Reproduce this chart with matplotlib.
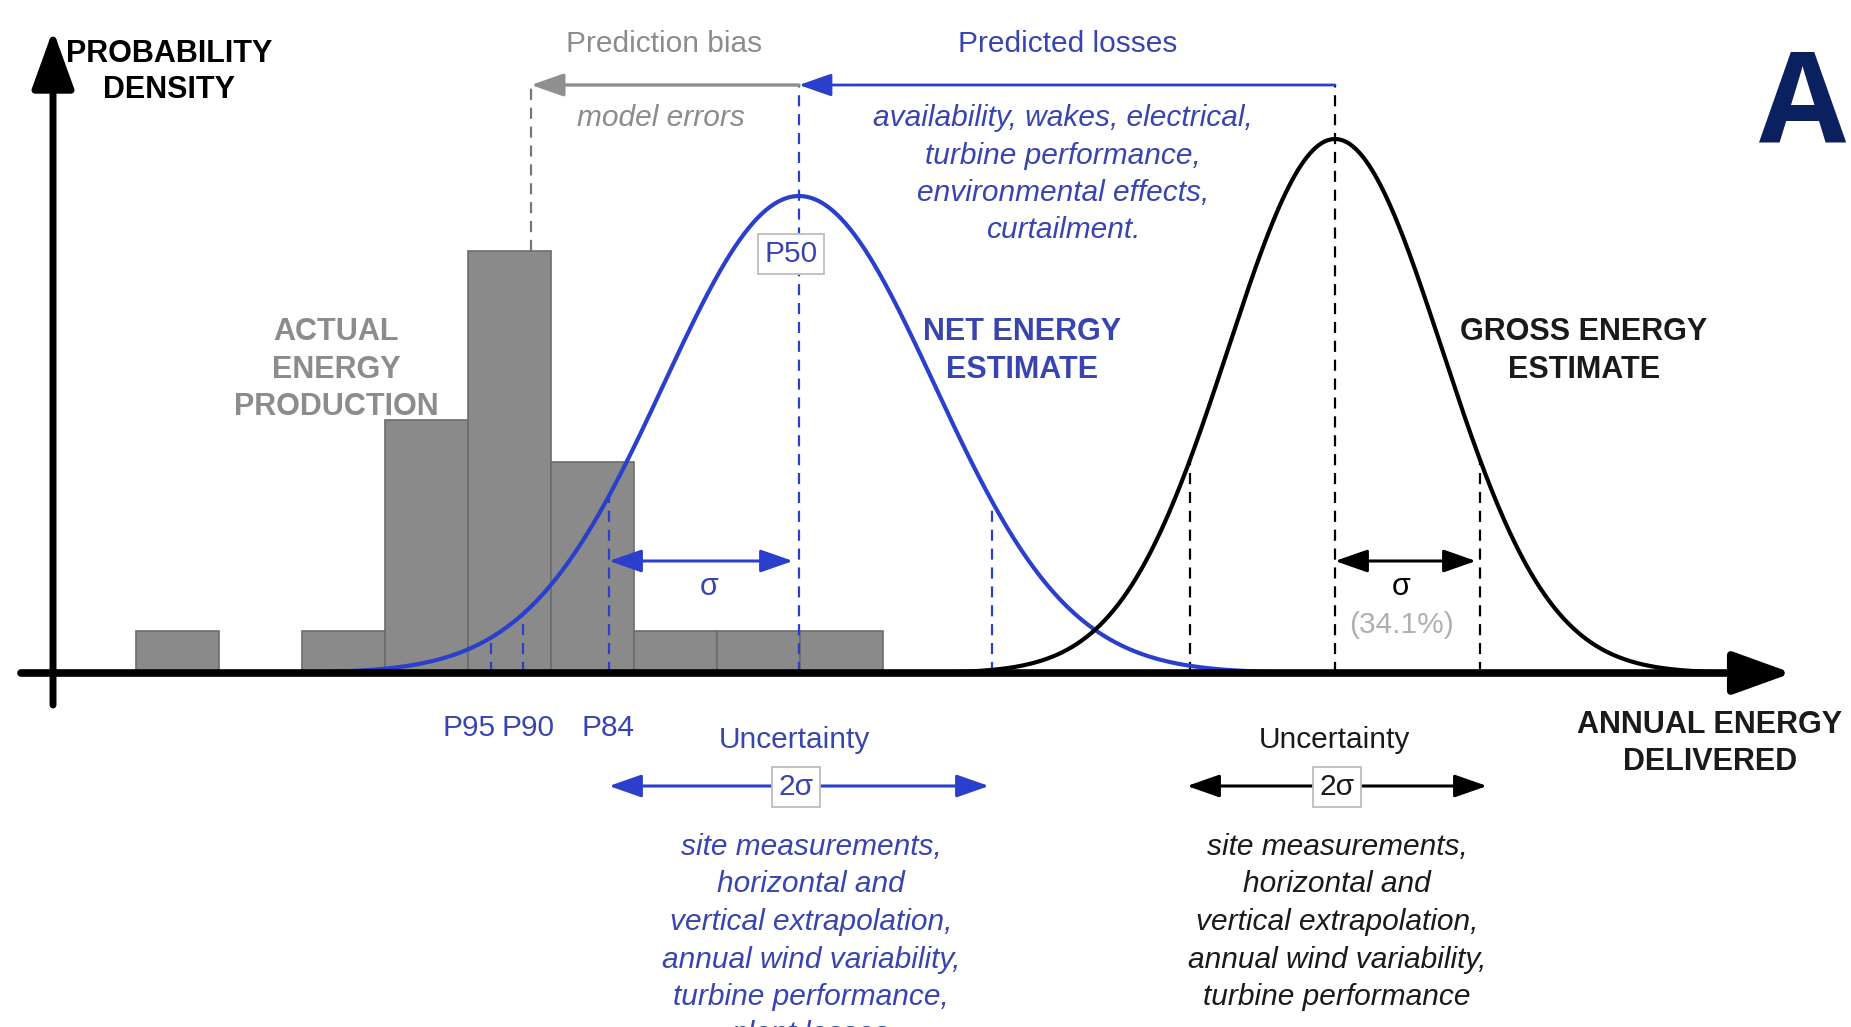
import numpy as np
import matplotlib.pyplot as plt
from matplotlib.patches import FancyArrowPatch

# ~ Datos del esquema (eje x: energia en px de la figura, eje y: altura sobre el eje)
hist_counts = [1, 0, 1, 6, 10, 5, 1, 1, 1]
hist_start = 136
hist_width = 83
hist_unit = 42.2

net_mean, net_sigma, net_shape, net_peak = 799, 190, 135, 477
gross_mean, gross_sigma, gross_shape, gross_peak = 1335, 145, 107, 534
actual_p50 = 531

p_labels = ["P95", "P90", "P84"]
p_values = [491, 523, 609]
p_label_x = [469, 528, 608]

loss_causes = ["availability, wakes, electrical,", "turbine performance,",
               "environmental effects,", "curtailment."]
net_causes = ["site measurements,", "horizontal and", "vertical extrapolation,",
              "annual wind variability,", "turbine performance,", "plant losses"]
gross_causes = ["site measurements,", "horizontal and", "vertical extrapolation,",
                "annual wind variability,", "turbine performance"]

BLUE = "#2a40cc"
TBLUE = "#3845b0"
GRAY = "#8c8c8c"
BASE = 673  # fila (px) del eje x


def row(py):
    return BASE - py


def curve(x, mean, shape, peak):
    return peak * np.exp(-(x - mean) ** 2 / (2 * shape ** 2))


def arrow(ax, x0, y0, x1, y1, color, style="-|>", lw=2.2, hl=20, hw=7, z=5):
    ax.add_patch(FancyArrowPatch((x0, y0), (x1, y1),
                                 arrowstyle=f"{style},head_length={hl},head_width={hw}",
                                 mutation_scale=1, color=color, lw=lw, joinstyle="round",
                                 shrinkA=0, shrinkB=0, zorder=z))


def lines(ax, x, py0, texts, step=37.5, **kw):
    for i, t in enumerate(texts):
        ax.text(x, row(py0 + i * step), t, ha="center", va="baseline", **kw)


plt.rcParams["font.family"] = ["Liberation Sans", "DejaVu Sans"]

fig = plt.figure(figsize=(18.51, 10.27), dpi=100)
ax = fig.add_axes([0, 0, 1, 1])
ax.set_xlim(0, 1851)
ax.set_ylim(row(1027), row(0))
ax.axis("off")

# histograma de produccion real
lefts = hist_start + hist_width * np.arange(len(hist_counts))
ax.bar(lefts, np.array(hist_counts) * hist_unit, width=hist_width, align="edge",
       color="#8a8a8a", edgecolor="#6c6c6c", lw=1.2, zorder=1)

# curvas de densidad
xb = np.linspace(330, 1300, 600)
yb = curve(xb, net_mean, net_shape, net_peak)
ax.plot(xb, yb, color=BLUE, lw=3.0, zorder=4)
xg = np.linspace(860, 1780, 600)
yg = curve(xg, gross_mean, gross_shape, gross_peak)
ax.plot(xg, yg, color="black", lw=3.0, zorder=4)

dash = dict(ls=(0, (5, 3.5)), lw=1.6)
y_top = row(85)

# lineas de percentiles (neto)
for v in p_values:
    ax.plot([v, v], [0, curve(v, net_mean, net_shape, net_peak)], color=BLUE, zorder=3, **dash)
xr = net_mean + net_sigma + 3
ax.plot([xr, xr], [0, curve(xr, net_mean, net_shape, net_peak)], color=BLUE, zorder=3, **dash)
ax.plot([net_mean, net_mean], [0, y_top], color=BLUE, zorder=3, **dash)

# lineas sigma (bruto)
for xs in [gross_mean - gross_sigma, gross_mean + gross_sigma]:
    ax.plot([xs, xs], [0, curve(xs, gross_mean, gross_shape, gross_peak)], color="black", zorder=3, **dash)
ax.plot([gross_mean, gross_mean], [0, y_top], color="black", zorder=3, **dash)

# sesgo de prediccion
ax.plot([actual_p50, actual_p50], [max(hist_counts) * hist_unit, y_top], color="#777777", zorder=3, **dash)
arrow(ax, net_mean, y_top, actual_p50, y_top, "#8f8f8f", lw=2.4)
arrow(ax, gross_mean, y_top, net_mean, y_top, BLUE, lw=2.0)

# flechas sigma
ys = row(561)
arrow(ax, net_mean - net_sigma, ys, net_mean - 6, ys, BLUE, style="<|-|>", lw=2.2)
arrow(ax, gross_mean, ys, gross_mean + gross_sigma - 4, ys, "black", style="<|-|>", lw=2.2)
y2 = row(786)
arrow(ax, net_mean - net_sigma, y2, net_mean + net_sigma, y2, BLUE, style="<|-|>", lw=2.2)
arrow(ax, gross_mean - gross_sigma - 3, y2, gross_mean + gross_sigma + 7, y2, "black", style="<|-|>", lw=2.2)

# ejes con flecha
arrow(ax, 21, 0, 1792, 0, "black", lw=5.5, hl=36, hw=13, z=6)
arrow(ax, 53, row(705), 53, row(30), "black", lw=5.0, hl=36, hw=13, z=6)

# textos
fs, fb = 21.5, 22
bold = dict(fontsize=fb, fontweight="bold")
lines(ax, 169, 62, ["PROBABILITY", "DENSITY"], step=36, color="black", **bold)
lines(ax, 336, 340, ["ACTUAL", "ENERGY", "PRODUCTION"], step=37.5, color=GRAY, **bold)
lines(ax, 1022, 340, ["NET ENERGY", "ESTIMATE"], step=38, color=TBLUE, **bold)
lines(ax, 1584, 340, ["GROSS ENERGY", "ESTIMATE"], step=38, color="#1a1a1a", **bold)
lines(ax, 1710, 733, ["ANNUAL ENERGY", "DELIVERED"], step=37, color="#1a1a1a", **bold)

ax.text(664, row(52), "Prediction bias", ha="center", va="baseline", fontsize=fs, color=GRAY)
ax.text(661, row(126), "model errors", ha="center", va="baseline", fontsize=fs, color=GRAY, style="italic")
ax.text(1068, row(52), "Predicted losses", ha="center", va="baseline", fontsize=fs, color=TBLUE)
lines(ax, 1063, 126, loss_causes, fontsize=fs, color=TBLUE, style="italic")

box = dict(boxstyle="square,pad=0.2", fc="white", ec="#bdbdbd", lw=1.3)
ax.text(791, row(254), "P50", ha="center", va="center", fontsize=fs, color=TBLUE, bbox=box, zorder=7)

for lab, lx in zip(p_labels, p_label_x):
    ax.text(lx, row(736), lab, ha="center", va="baseline", fontsize=fs, color=TBLUE)

ax.text(709, row(595), "σ", ha="center", va="baseline", fontsize=fb, color=TBLUE)
ax.text(1401, row(595), "σ", ha="center", va="baseline", fontsize=fb, color="black")
ax.text(1401, row(633), "(34.1%)", ha="center", va="baseline", fontsize=fs, color="#b0b0b0")

ax.text(794, row(748), "Uncertainty", ha="center", va="baseline", fontsize=fs, color=TBLUE)
ax.text(1334, row(748), "Uncertainty", ha="center", va="baseline", fontsize=fs, color="#1a1a1a")
ax.text(796, row(787), "2σ", ha="center", va="center", fontsize=fs, color=TBLUE, bbox=box, zorder=7)
ax.text(1337, row(787), "2σ", ha="center", va="center", fontsize=fs, color="#1a1a1a", bbox=box, zorder=7)

lines(ax, 811, 855, net_causes, fontsize=fs, color=TBLUE, style="italic")
lines(ax, 1337, 855, gross_causes, fontsize=fs, color="#1a1a1a", style="italic")

ax.text(1803, row(141), "A", ha="center", va="baseline", fontsize=91, fontweight="bold",
        color="#0b215f", family=["Open Sans", "DejaVu Sans"])

fig.savefig("out.png", dpi=100)
